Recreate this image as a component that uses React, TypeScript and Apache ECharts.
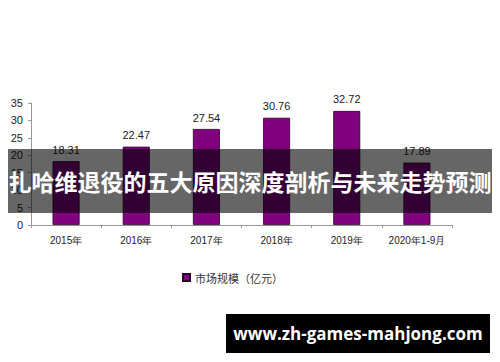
import React, { useEffect, useRef } from "react";
import * as echarts from "echarts";

const categories = ["2015年", "2016年", "2017年", "2018年", "2019年", "2020年1-9月"];
const marketSize = [18.31, 22.47, 27.54, 30.76, 32.72, 17.89];
const seriesName = "市场规模（亿元）";
const titleText = "扎哈维退役的五大原因深度剖析与未来走势预测";
const watermarkText = "www.zh-games-mahjong.com";

export default function App() {
  const ref = useRef<HTMLDivElement>(null);
  useEffect(() => {
    if (!ref.current) return;
    const chart = echarts.init(ref.current, undefined, { renderer: "svg" });
    const sans = "Liberation Sans, Arial, sans-serif";
    chart.setOption({
      animation: false,
      backgroundColor: "#fff",
      grid: { left: 31, right: 48, top: 103, bottom: 137, containLabel: false },
      legend: {
        data: [seriesName],
        left: 177,
        top: 267,
        itemWidth: 7,
        itemHeight: 7,
        itemGap: 4,
        icon: "rect",
        textStyle: { fontSize: 11, color: "#333", fontFamily: "Noto Sans CJK SC, sans-serif" },
      },
      xAxis: {
        type: "category",
        data: categories,
        axisLine: { lineStyle: { color: "#999", width: 1 } },
        axisTick: { show: true, length: 3, lineStyle: { color: "#999" } },
        axisLabel: { interval: 0, fontSize: 10, color: "#222", margin: 10, fontFamily: sans },
      },
      yAxis: {
        type: "value",
        min: 0,
        max: 35,
        interval: 5,
        axisLine: { show: true, lineStyle: { color: "#999", width: 1 } },
        axisTick: { show: true, length: 3, lineStyle: { color: "#999" } },
        splitLine: { show: false },
        axisLabel: { fontSize: 11, color: "#222", margin: 8, fontFamily: sans },
      },
      series: [
        {
          name: seriesName,
          type: "bar",
          data: marketSize,
          barWidth: 27,
          itemStyle: { color: "#800080", borderColor: "#2a002a", borderWidth: 0.8 },
          label: {
            show: true,
            position: "top",
            distance: 6,
            fontSize: 11,
            color: "#222",
            fontFamily: sans,
            formatter: (p: any) => p.value.toFixed(2),
          },
        },
      ],
      graphic: [
        {
          type: "rect",
          z: 100,
          shape: { x: 8, y: 149, width: 484, height: 64 },
          style: { fill: "rgba(0,0,0,0.6)" },
        },
        {
          type: "text",
          z: 101,
          x: 250,
          y: 181,
          style: {
            text: titleText,
            fill: "#fff",
            font: "bold 23px 'Noto Sans CJK SC', sans-serif",
            textAlign: "center",
            textVerticalAlign: "middle",
          },
        },
        {
          type: "rect",
          z: 100,
          shape: { x: 226, y: 314, width: 264, height: 39 },
          style: { fill: "#000" },
        },
        {
          type: "text",
          z: 101,
          x: 358,
          y: 333.5,
          style: {
            text: watermarkText,
            fill: "#fff",
            font: "bold 17px 'Open Sans', sans-serif",
            textAlign: "center",
            textVerticalAlign: "middle",
          },
        },
      ],
    });
    return () => chart.dispose();
  }, []);
  return (
    <div
      ref={ref}
      style={{ position: "fixed", left: 0, top: 0, width: 500, height: 362 }}
    />
  );
}
